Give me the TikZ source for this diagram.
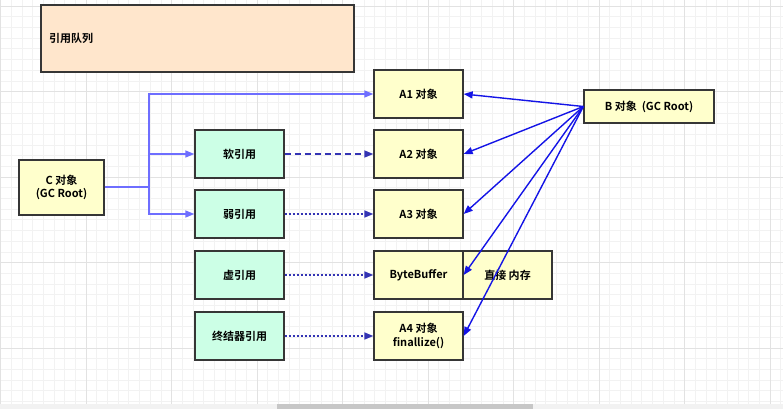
\documentclass[tikz,border=0pt]{standalone}
\usepackage{fontspec}
\setmainfont{Noto Sans CJK SC}[BoldFont={* Bold}]
\usepackage{tikz}
\usetikzlibrary{positioning}
\usetikzlibrary{arrows.meta}

\definecolor{gridminor}{HTML}{F2F2F2}
\definecolor{gridmajor}{HTML}{E2E2E2}
\definecolor{boxyellow}{HTML}{FFFFCC}
\definecolor{boxgreen}{HTML}{CCFFE6}
\definecolor{boxpeach}{HTML}{FFE6CC}
\definecolor{boxline}{HTML}{363636}
\definecolor{forkblue}{HTML}{6E6EFF}
\definecolor{refblue}{HTML}{3434B4}
\definecolor{rootblue}{HTML}{1414E6}

\tikzset{
	obj/.style={draw=boxline, line width=1.3pt, fill=boxyellow, minimum width=89pt, minimum height=47pt, align=center, font=\bfseries\fontsize{11}{13}\selectfont},
	refbox/.style={obj, fill=boxgreen, minimum height=48pt},
	tip/.style={-{Triangle[length=9pt,width=7pt]}},
	fork/.style={draw=forkblue, line width=1.4pt},
	softline/.style={tip, draw=refblue, line width=1.5pt, dash pattern=on 6pt off 4pt},
	weakline/.style={tip, draw=refblue, line width=1.6pt, dash pattern=on 2pt off 2pt},
	rootline/.style={tip, draw=rootblue, line width=1.4pt}
}

\begin{document}
\begin{tikzpicture}[x=1pt,y=-1pt]
	
	\useasboundingbox (0,0) rectangle (783,409);
	
	% background grid
	\foreach \i in {0,...,73} {
		\draw[gridminor, line width=0.6pt] (0.5+\i*10.6875,0) -- (0.5+\i*10.6875,409);
	}
	\foreach \i in {0,...,38} {
		\draw[gridminor, line width=0.6pt] (0,6+\i*10.6875) -- (783,6+\i*10.6875);
	}
	\foreach \i in {0,...,9} {
		\draw[gridmajor, line width=0.8pt] (0.5+\i*85.5,0) -- (0.5+\i*85.5,409);
	}
	\foreach \i in {0,...,4} {
		\draw[gridmajor, line width=0.8pt] (0,6+\i*85.5) -- (783,6+\i*85.5);
	}
	
	% scroll bar
	\fill[gridminor] (0,404) rectangle (783,409);
	\fill[black!22] (277,404) rectangle (533,409);
	
	% reference queue
	\node[obj, fill=boxpeach, minimum height=67pt, text width=297pt, inner xsep=8pt, align=left] (queue) at (197.5,38.5) {引用队列};
	
	% GC roots
	\node[obj, minimum width=85pt, minimum height=55pt] (C) at (61.5,187.5) {C 对象\\(GC Root)};
	\node[obj, minimum width=130pt, minimum height=33pt] (B) at (649,106.5) {B 对象 ~(GC Root)};
	
	% references
	\node[refbox] (soft) at (239.5,154) {软引用};
	\node[refbox] (weak) at (239.5,214) {弱引用};
	\node[refbox] (phantom) at (239.5,275) {虚引用};
	\node[refbox] (final) at (239.5,336) {终结器引用};
	
	% objects
	\node[obj, minimum height=48pt] (A1) at (418.5,94) {A1 对象};
	\node[obj, minimum height=48pt] (A2) at (418.5,154) {A2 对象};
	\node[obj, minimum height=48pt] (A3) at (418.5,214) {A3 对象};
	\node[obj, minimum height=48pt] (buf) at (418.5,275) {ByteBuffer};
	\node[obj, minimum height=48pt] (mem) at (507.5,275) {直接 内存};
	\node[obj, minimum height=48pt, font=\bfseries\fontsize{11}{14}\selectfont] (A4) at (418.5,336) {A4 对象\\finallize()};
	
	% strong references from C
	\coordinate (split) at (149,187);
	\draw[fork] (C.east |- split) -- (split);
	\draw[fork, tip] (split) |- (A1.west);
	\draw[fork, tip] (split) |- (soft.west);
	\draw[fork, tip] (split) |- (weak.west);
	
	% references to their objects
	\draw[softline] (soft) -- (A2);
	\draw[weakline] (weak) -- (A3);
	\draw[weakline] (phantom) -- (buf);
	\draw[weakline] (final) -- (A4);
	
	% strong references from B
	\foreach \target in {A1,A2,A3,buf,A4} {
		\draw[rootline] (B.west) -- (\target.east);
	}
	
\end{tikzpicture}
\end{document}
